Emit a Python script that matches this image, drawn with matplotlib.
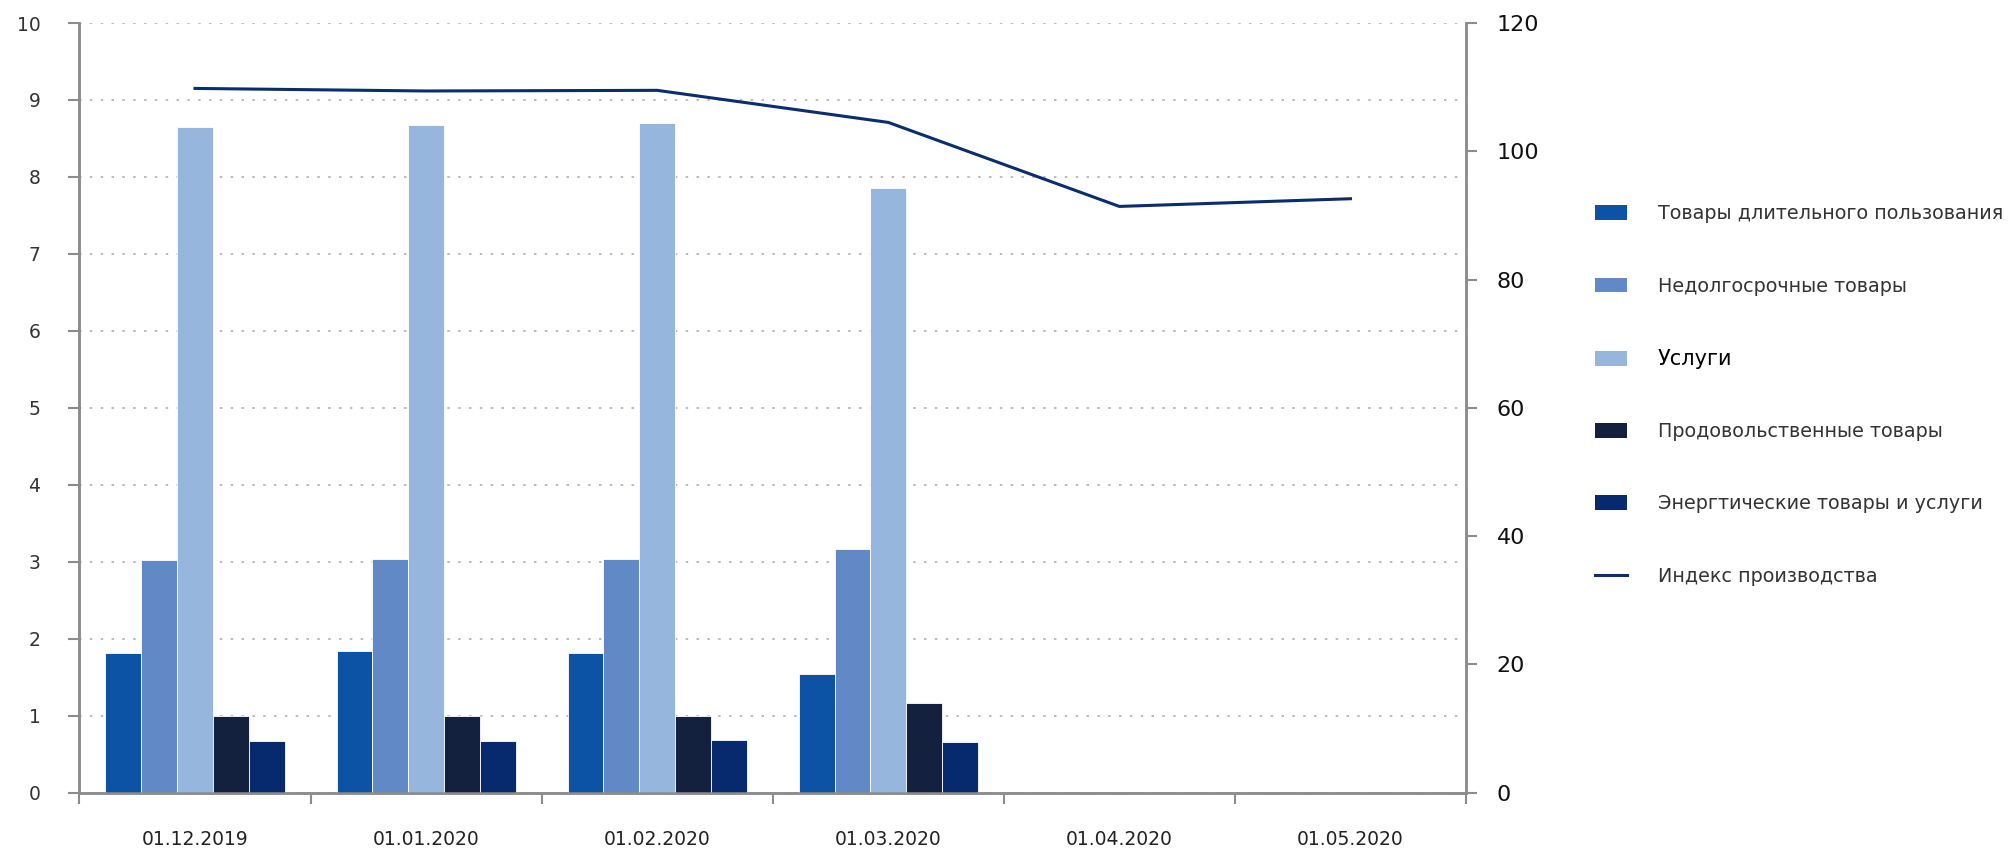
import matplotlib
matplotlib.use("Agg")
import matplotlib.pyplot as plt
import numpy as np
from matplotlib.patches import Patch
from matplotlib.lines import Line2D

# data
dates = ["01.12.2019", "01.01.2020", "01.02.2020", "01.03.2020", "01.04.2020", "01.05.2020"]
durable = [1.82, 1.84, 1.82, 1.54]
nondurable = [3.02, 3.04, 3.04, 3.16]
services = [8.65, 8.67, 8.70, 7.86]
food = [1.00, 1.00, 0.99, 1.17]
energy = [0.67, 0.67, 0.69, 0.66]
prod_index = [109.8, 109.4, 109.5, 104.5, 91.4, 92.6]

series_names = ["Товары длительного пользования", "Недолгосрочные товары", "Услуги",
                "Продовольственные товары", "Энергтические товары и услуги"]
line_name = "Индекс производства"
colors = ["#0C52A5", "#6189C6", "#97B6DE", "#13213F", "#062A6D"]
line_color = "#0B2D6E"

plt.rcParams['font.family'] = ['DejaVu Sans']
fig = plt.figure(figsize=(20.11, 8.52), dpi=100)
ax = fig.add_axes([0.0395, 0.0697, 0.6895, 0.9033])
ax2 = ax.twinx()

w = 0.155
bars = [durable, nondurable, services, food, energy]
for j, vals in enumerate(bars):
    x = np.arange(len(vals)) + (j - 2) * w
    ax.bar(x, vals, width=w, color=colors[j], edgecolor="white", linewidth=0.6, zorder=3)

ax2.plot(np.arange(len(dates)), prod_index, color=line_color, linewidth=2.2, zorder=4)

grey = "#8c8c8c"
ax.set_xlim(-0.5, len(dates) - 0.5)
ax.set_ylim(0, 10)
ax2.set_ylim(0, 120)
ax.set_yticks(range(0, 11))
ax2.set_yticks(range(0, 121, 20))
ax.grid(axis="y", linestyle=(0, (1.5, 5)), color="#b0b0b0", linewidth=1.2, zorder=0)
ax.set_xticks(np.arange(len(dates)))
ax.set_xticklabels(dates)
ax.set_xticks(np.arange(len(dates) + 1) - 0.5, minor=True)
ax.tick_params(axis="x", which="major", length=0, pad=27, labelsize=13.5, labelcolor="#222222")
ax.tick_params(axis="x", which="minor", length=8, width=1.5, color=grey, direction="out")
ax.tick_params(axis="y", length=8, width=1.5, color=grey, labelsize=13.5, labelcolor="#333333", pad=20)
ax2.tick_params(axis="y", length=8, width=1.5, color=grey, labelsize=16, labelcolor="#111111", pad=14)

for a in (ax, ax2):
    a.spines["top"].set_visible(False)
    for s in ("left", "right", "bottom"):
        a.spines[s].set_color(grey)
        a.spines[s].set_linewidth(1.8)

handles = [Patch(facecolor=c, edgecolor="none") for c in colors]
handles.append(Line2D([0], [0], color=line_color, linewidth=2.2))
leg = fig.legend(handles, series_names + [line_name], loc="upper left",
                 bbox_to_anchor=(0.7848, 0.7805), frameon=False, fontsize=13.8,
                 handlelength=1.65, handleheight=0.8, handletextpad=1.6,
                 labelspacing=2.78)
for t in leg.get_texts():
    t.set_color("#333333")
leg.get_texts()[2].set_color("black")
leg.get_texts()[2].set_fontsize(15)

fig.savefig("out.png", dpi=100)
